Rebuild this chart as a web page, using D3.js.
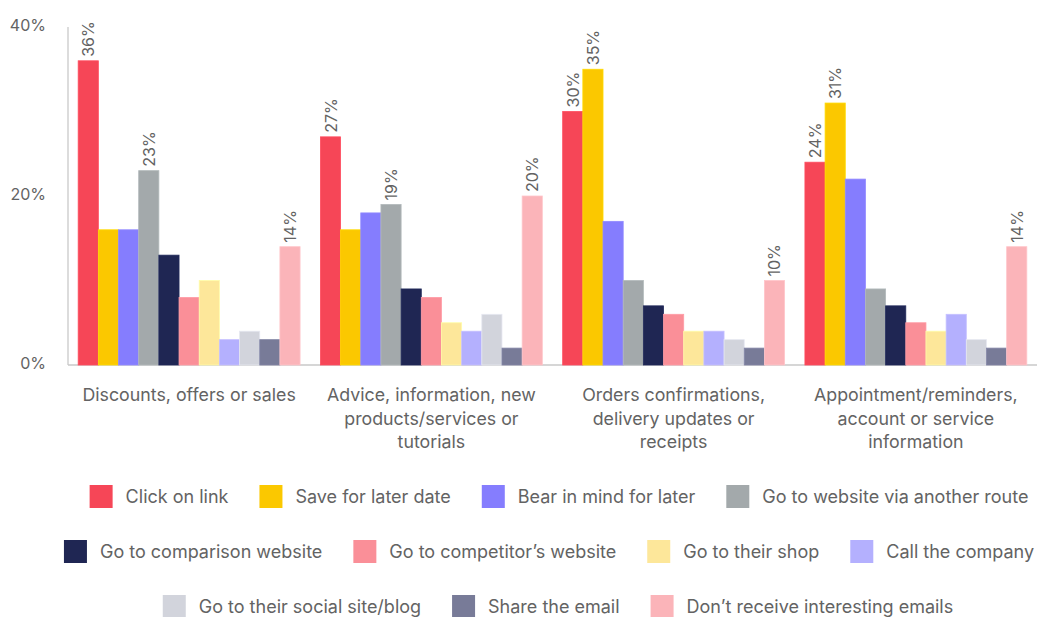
<!DOCTYPE html>
<html><head><meta charset="utf-8">
<script src="https://cdn.jsdelivr.net/npm/d3@7"></script>
<style>
body{margin:0;background:#fff}
svg text{font-family:Inter, "Noto Sans", sans-serif; fill:#636363}
</style>
</head><body>
<svg id="chart" width="1038" height="617"></svg>
<script>
// ---- data ----
const categories = [
  ["Discounts, offers or sales"],
  ["Advice, information, new", "products/services or", "tutorials"],
  ["Orders confirmations,", "delivery updates or", "receipts"],
  ["Appointment/reminders,", "account or service", "information"]
];
const seriesNames = [
  "Click on link", "Save for later date", "Bear in mind for later", "Go to website via another route",
  "Go to comparison website", "Go to competitor\u2019s website", "Go to their shop", "Call the company",
  "Go to their social site/blog", "Share the email", "Don\u2019t receive interesting emails"
];
const seriesColors = [
  "#F64657", "#FBC800", "#857DFE", "#A3A9AB",
  "#1F2653", "#FA8F98", "#FDE79A", "#B4B0FE",
  "#D2D4DC", "#787B98", "#FBB4B9"
];
const clickOnLink        = [36, 27, 30, 24];
const saveForLater       = [16, 16, 35, 31];
const bearInMind         = [16, 18, 17, 22];
const websiteOtherRoute  = [23, 19, 10, 9];
const comparisonWebsite  = [13, 9, 7, 7];
const competitorWebsite  = [8, 8, 6, 5];
const theirShop          = [10, 5, 4, 4];
const callCompany        = [3, 4, 4, 6];
const socialSite         = [4, 6, 3, 3];
const shareEmail         = [3, 2, 2, 2];
const dontReceive        = [14, 20, 10, 14];
// which series carry a value label, per category
const labelledSeries = [[0, 3, 10], [0, 3, 10], [0, 1, 10], [0, 1, 10]];
const yTicks = [0, 20, 40];
const tickLabels = ["0%", "20%", "40%"];
const legendRows = [[0, 1, 2, 3], [4, 5, 6, 7], [8, 9, 10]];

const seriesValues = [clickOnLink, saveForLater, bearInMind, websiteOtherRoute, comparisonWebsite,
  competitorWebsite, theirShop, callCompany, socialSite, shareEmail, dontReceive];

// ---- layout ----
const svg = d3.select("#chart");
const x0 = d3.scaleBand().domain(d3.range(categories.length)).range([68, 1037])
  .paddingInner(0.084).paddingOuter(0.042);
const x1 = d3.scaleBand().domain(d3.range(seriesNames.length)).range([0, x0.bandwidth()]);
const y = d3.scaleLinear().domain([0, 40]).range([365, 27]);

// axes lines
svg.append("line").attr("x1", 68).attr("x2", 68).attr("y1", y(40)).attr("y2", y(0))
  .attr("stroke", "#d0d0d0").attr("stroke-width", 1.5);
svg.append("line").attr("x1", 68).attr("x2", 1037).attr("y1", y(0)).attr("y2", y(0))
  .attr("stroke", "#c8c8c8").attr("stroke-width", 1.5);

// y tick labels
svg.append("g").selectAll("text").data(yTicks).join("text")
  .attr("x", 46).attr("y", d => y(d) - 2)
  .attr("text-anchor", "end").attr("dominant-baseline", "central")
  .style("font-size", "16px")
  .text((d, i) => tickLabels[i]);

// bars
const table = [];
categories.forEach((c, ci) => seriesNames.forEach((s, si) =>
  table.push({ci, si, v: seriesValues[si][ci], lab: labelledSeries[ci].includes(si)})));

svg.append("g").selectAll("rect").data(table).join("rect")
  .attr("x", d => x0(d.ci) + x1(d.si))
  .attr("y", d => y(d.v))
  .attr("width", x1.bandwidth())
  .attr("height", d => y(0) - y(d.v))
  .attr("fill", d => seriesColors[d.si])
  .attr("stroke", d => d3.color(seriesColors[d.si]).brighter(0.25))
  .attr("stroke-width", 0.8);

// value labels
svg.append("g").selectAll("text").data(table.filter(d => d.lab)).join("text")
  .attr("transform", d => `translate(${x0(d.ci) + x1(d.si) + x1.bandwidth() / 2},${y(d.v) - 4}) rotate(-90)`)
  .attr("dominant-baseline", "central")
  .style("font-size", "16px")
  .text(d => d.v + "%");

// category labels
const catG = svg.append("g");
categories.forEach((lines, ci) => {
  const t = catG.append("text").attr("text-anchor", "middle").style("font-size", "17.8px");
  lines.forEach((ln, li) => t.append("tspan")
    .attr("x", x0(ci) + x0.bandwidth() / 2).attr("y", 401 + li * 23.5).text(ln));
});

// legend
const rowTops = [485, 540, 595];
const rowCenters = [559, 549, 558];
const sw = 23, gapText = 13, gapItem = 31;
legendRows.forEach((row, ri) => {
  const g = svg.append("g");
  let xPos = 0;
  row.forEach((si, k) => {
    const item = g.append("g").attr("transform", `translate(${xPos},0)`);
    item.append("rect").attr("x", 0).attr("y", rowTops[ri]).attr("width", sw).attr("height", sw)
      .attr("fill", seriesColors[si]);
    const t = item.append("text").attr("x", sw + gapText).attr("y", rowTops[ri] + sw / 2)
      .attr("dominant-baseline", "central").style("font-size", "18px").text(seriesNames[si]);
    xPos += sw + gapText + t.node().getComputedTextLength() + (k < row.length - 1 ? gapItem : 0);
  });
  g.attr("transform", `translate(${rowCenters[ri] - xPos / 2},0)`);
});
</script>
</body></html>
